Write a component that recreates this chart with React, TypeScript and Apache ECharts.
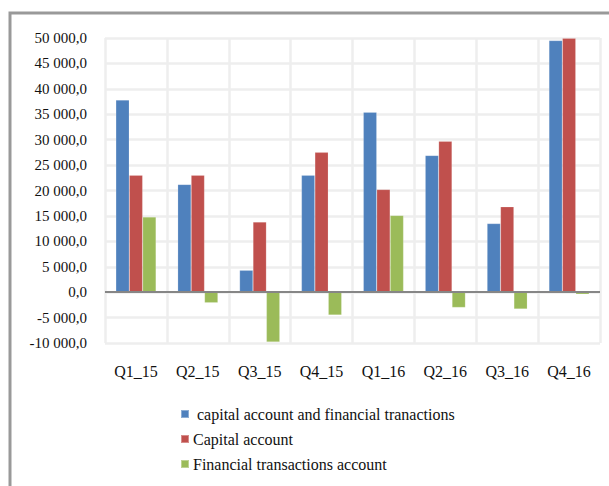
import React, { useEffect, useRef } from "react";
import * as echarts from "echarts";

// Quarterly balances, 2015–2016
const quarters = ["Q1_15", "Q2_15", "Q3_15", "Q4_15", "Q1_16", "Q2_16", "Q3_16", "Q4_16"];
const capitalAndFinancial = [37800, 21200, 4300, 23000, 35400, 26900, 13500, 49500];
const capitalAccount = [23000, 23000, 13800, 27500, 20200, 29700, 16800, 49950];
const financialTransactions = [14800, -2100, -9800, -4500, 15100, -3000, -3300, -400];

const seriesNames = [
  " capital account and financial tranactions",
  "Capital account",
  "Financial transactions account",
];
const seriesColors = ["#4F81BD", "#C0504D", "#9BBB59"];

const yMin = -10000;
const yMax = 50000;
const yStep = 5000;

const FONT = "'Liberation Serif', 'Times New Roman', serif";

// "50 000,0" style: space thousands separator, comma decimal
function formatValue(v: number): string {
  const sign = v < 0 ? "-" : "";
  const [intPart, dec] = Math.abs(v).toFixed(1).split(".");
  const grouped = intPart.replace(/\B(?=(\d{3})+(?!\d))/g, " ");
  return `${sign}${grouped},${dec}`;
}

export default function App() {
  const ref = useRef<HTMLDivElement>(null);

  useEffect(() => {
    if (!ref.current) return;
    const chart = echarts.init(ref.current, undefined, { renderer: "svg" });
    const values = [capitalAndFinancial, capitalAccount, financialTransactions];

    chart.setOption({
      animation: false,
      backgroundColor: "#ffffff",
      graphic: [
        {
          type: "rect",
          shape: { x: 10, y: 13, width: 640, height: 520 },
          style: { fill: "none", stroke: "#999999", lineWidth: 3 },
          silent: true,
        },
      ],
      grid: { left: 105, right: 9, top: 38, bottom: 143, containLabel: false },
      legend: {
        orient: "vertical",
        left: 175,
        top: 401,
        itemWidth: 8,
        itemHeight: 8,
        itemGap: 9,
        icon: "rect",
        textStyle: { fontFamily: FONT, fontSize: 16, color: "#111111", padding: [0, 0, 0, -1] },
        data: seriesNames,
      },
      xAxis: {
        type: "category",
        data: quarters,
        boundaryGap: true,
        axisLine: { show: false },
        axisTick: { show: false },
        axisLabel: { fontFamily: FONT, fontSize: 16, color: "#111111", margin: 20 },
        splitLine: { show: true, lineStyle: { color: "#eeeeee", width: 2.5 } },
      },
      yAxis: {
        type: "value",
        min: yMin,
        max: yMax,
        interval: yStep,
        axisLine: { show: false },
        axisTick: { show: false },
        axisLabel: {
          fontFamily: FONT,
          fontSize: 15,
          color: "#111111",
          margin: 18,
          formatter: (v: number) => formatValue(v),
        },
        splitLine: { show: true, lineStyle: { color: "#eeeeee", width: 2.5 } },
      },
      series: seriesNames.map((name, i) => ({
        name,
        type: "bar",
        data: values[i],
        barGap: "0%",
        barCategoryGap: "35%",
        itemStyle: { color: seriesColors[i], borderColor: "rgba(255,255,255,0.35)", borderWidth: 0.5 },
        ...(i === 2
          ? {
              markLine: {
                silent: true,
                symbol: "none",
                label: { show: false },
                lineStyle: { color: "#868686", width: 2, type: "solid" },
                data: [{ yAxis: 0 }],
              },
            }
          : {}),
      })),
    });

    return () => chart.dispose();
  }, []);

  return (
    <div
      ref={ref}
      style={{ position: "fixed", left: 0, top: 0, width: 609, height: 486 }}
    />
  );
}
